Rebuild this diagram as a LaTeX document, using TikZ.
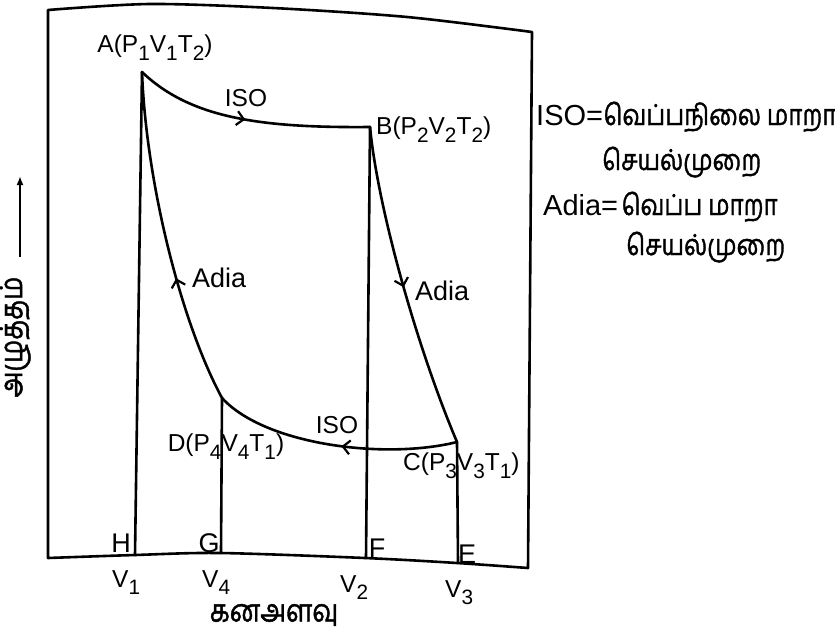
\documentclass[tikz,border=0pt]{standalone}
\usepackage{fontspec}
\usepackage{graphicx}
\setmainfont{Liberation Sans}
\newfontfamily\tamilfont[Script=Tamil,FakeBold=1.5]{Hind Madurai}
\usetikzlibrary{arrows.meta,decorations.markings}
\newcommand\lowsub[1]{\raisebox{-0.32em}{\scalebox{0.85}{#1}}}
\newcommand\tallta[1]{\scalebox{1}[1.2]{#1}}
\tikzset{
  ln/.style={line width=2.6pt, line cap=round, line join=round},
  frame/.style={line width=2.6pt, line join=round},
  lbl/.style={inner sep=0pt, font=\fontsize{24.5}{26}\selectfont},
  big/.style={inner sep=0pt, font=\fontsize{27}{29}\selectfont},
  leg/.style={inner sep=0pt, font=\fontsize{29}{31}\selectfont},
  tam/.style={inner sep=0pt, font=\tamilfont\fontsize{24}{28}\selectfont},
  tamax/.style={inner sep=0pt, font=\tamilfont\fontsize{26}{30}\selectfont},
  barb/.style={postaction={decorate, decoration={markings,
     mark=at position #1 with {\arrow{Straight Barb[length=7pt,width=14pt,line width=2.2pt]}}}}}
}
\begin{document}
\begin{tikzpicture}[x=1pt,y=-1pt]
\useasboundingbox (0,0) rectangle (835,635);
% frame
\draw[frame] plot[smooth] coordinates {(48,10) (150,4) (273,8) (407,17) (532,32)}
   -- (528,568) -- plot[smooth] coordinates {(528,568) (457,563) (365,558) (220,553) (135,555) (48,558)} -- cycle;
% state points
\coordinate (A) at (142,72);
\coordinate (B) at (370,127);
\coordinate (C) at (457,442);
\coordinate (D) at (222,398);
\coordinate (H) at (135,555);
\coordinate (G) at (221,553);
\coordinate (F) at (366,558);
\coordinate (E) at (458,563);
% vertical lines
\draw[ln] (A) -- (H);
\draw[ln] (D) -- (G);
\draw[ln] (B) -- (F);
\draw[ln] (C) -- (E);
% cycle
\draw[ln, barb=0.48] (A) .. controls (190,118) and (260,128) .. (B);
\draw[ln, barb=0.5] (B) .. controls (378,210) and (418,350) .. (C);
\draw[ln, barb=0.47] (C) .. controls (385,460) and (265,445) .. (D);
\draw[ln, barb=0.38] (D) .. controls (180,320) and (146,180) .. (A);
% point labels
\node[lbl] (la) at (155,48) {A(P\lowsub{1}V\lowsub{1}T\lowsub{2})};
\node[lbl, anchor=west] (lb) at (376,130) {B(P\lowsub{2}V\lowsub{2}T\lowsub{2})};
\node[lbl] (ld) at (226,447) {D(P\lowsub{4}V\lowsub{4}T\lowsub{1})};
\node[lbl, anchor=west] (lc) at (403,466) {C(P\lowsub{3}V\lowsub{3}T\lowsub{1})};
\node[lbl] (iso1) at (246,98) {ISO};
\node[lbl] (iso2) at (337,425) {ISO};
\node[big, anchor=west] (ad1) at (192,278) {Adia};
\node[big, anchor=west] (ad2) at (415,291) {Adia};
% bottom letters
\node[big] (lh) at (121,543) {H};
\node[big] (lg) at (209,543) {G};
\node[big] (lf) at (377,548) {F};
\node[big] (le) at (467,554) {E};
\node[lbl, anchor=north west] (v1) at (112,570) {V\lowsub{1}};
\node[lbl, anchor=north west] (v4) at (202,570) {V\lowsub{4}};
\node[lbl, anchor=north west] (v2) at (340,575) {V\lowsub{2}};
\node[lbl, anchor=north west] (v3) at (445,580) {V\lowsub{3}};
% axis labels
\node[tamax] (xl) at (274,615) {\tallta{கனஅளவு}};
\node[tamax, rotate=90] (yl) at (15,337) {\tallta{அழுத்தம்}};
\coordinate (ya0) at (20,257);
\coordinate (ya1) at (20,176);
\draw[line width=1.8pt, -{Latex[length=9pt,width=7pt]}] (ya0) -- (ya1);
% legend
\node[leg, anchor=base west] (leg1) at (536,125) {ISO=};
\node[tam, anchor=base west] (leg1t) at (leg1.base east) {\tallta{வெப்பநிலை மாறா}};
\node[tam, anchor=base west] (leg2) at (602,170) {\tallta{செயல்முறை}};
\node[leg, anchor=base west] (leg3) at (543,215) {Adia=};
\node[tam, anchor=base west] (leg3t) at ([xshift=3pt]leg3.base east) {\tallta{வெப்ப மாறா}};
\node[tam, anchor=base west] (leg4) at (626,255) {\tallta{செயல்முறை}};
\end{tikzpicture}
\end{document}
